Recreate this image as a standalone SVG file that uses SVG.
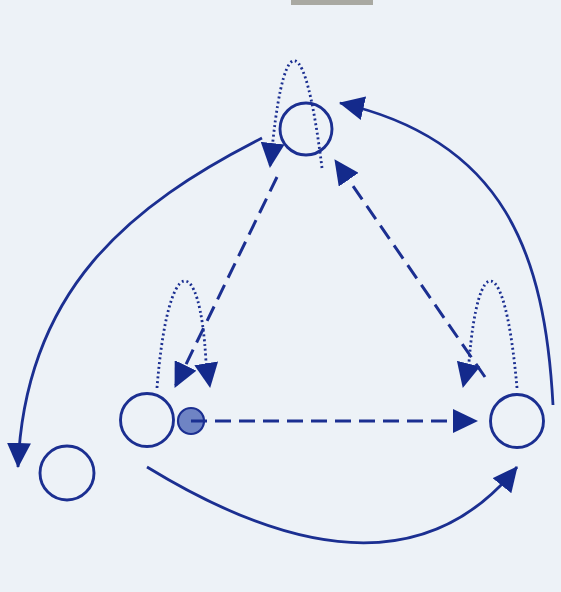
<svg xmlns="http://www.w3.org/2000/svg" width="561" height="592" viewBox="0 0 561 592">
  <style>
    .bg { fill: #edf2f7; }
    .player { fill: none; stroke: #1b2f91; stroke-width: 2.9; }
    .ball { fill: #6f84c4; stroke: #1b2f91; stroke-width: 2.2; }
    .solid { fill: none; stroke: #1b2f91; stroke-width: 2.8; }
    .dashed { fill: none; stroke: #1b2f91; stroke-width: 3; stroke-dasharray: 16 8; }
    .dotted { fill: none; stroke: #1b2f91; stroke-width: 2.8; stroke-dasharray: 2 2.8; }
  </style>
  <defs>
    <marker id="head" markerUnits="userSpaceOnUse" viewBox="0 0 25 24" refX="24" refY="12" markerWidth="25" markerHeight="24" orient="auto">
      <path d="M0,0 L25,12 L0,24 z" fill="#142a8c"/>
    </marker>
  </defs>
  <rect class="bg" x="0" y="0" width="561" height="592"/>
  <rect x="291" y="0" width="82" height="5" fill="#a9a9a2"/>

  <g id="player-top"><circle class="player" cx="306" cy="129" r="26"/></g>
  <g id="player-left"><circle class="player" cx="147" cy="420" r="26.5"/></g>
  <g id="ball"><circle class="ball" cx="191" cy="421" r="13"/></g>
  <g id="player-right"><circle class="player" cx="517" cy="421" r="26.5"/></g>
  <g id="player-bottomleft"><circle class="player" cx="67" cy="473" r="27"/></g>

  <g id="connectors">
    <path class="dotted" d="M322,168 C305,30 285,30 273,140 L270,167" marker-end="url(#head)"/>
    <path class="dotted" d="M157,388 C168,250 200,250 206,362 L210,387" marker-end="url(#head)"/>
    <path class="dotted" d="M517,388 C505,250 478,250 469,362 L463,387" marker-end="url(#head)"/>

    <path class="dashed" d="M277,177 L175,387" marker-end="url(#head)"/>
    <path class="dashed" d="M485,377 L335,160" marker-end="url(#head)"/>
    <path class="dashed" d="M191,421 L477,421" marker-end="url(#head)"/>

    <path class="solid" d="M262,138 C130,205 25,290 18,467" marker-end="url(#head)"/>
    <path class="solid" d="M553,405 C545,255 505,140 340,103" marker-end="url(#head)"/>
    <path class="solid" d="M147,467 C250,530 410,600 517,467" marker-end="url(#head)"/>
  </g>
</svg>
